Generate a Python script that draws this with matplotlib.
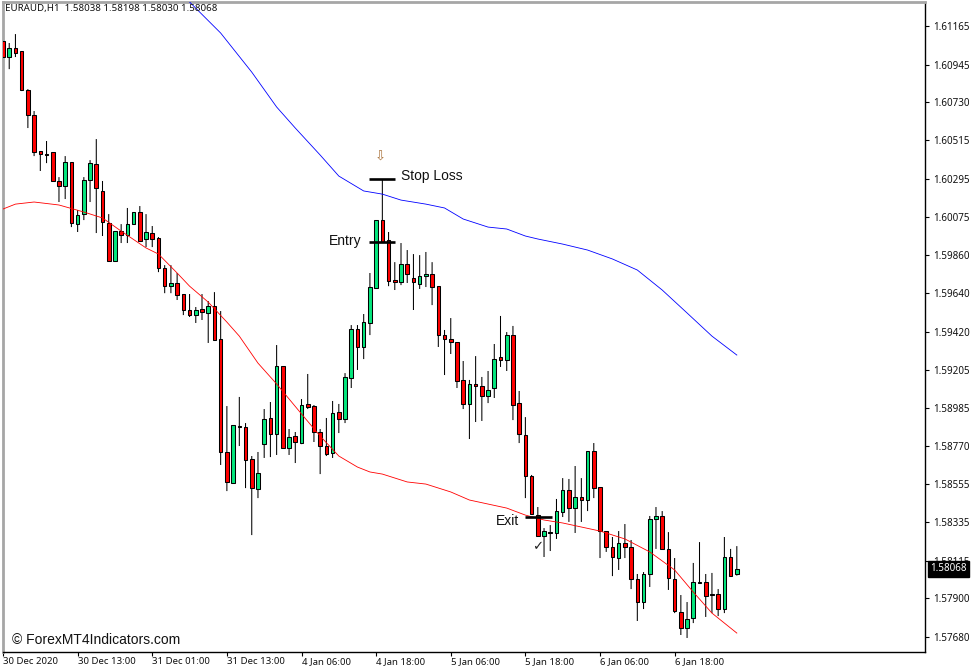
import matplotlib
matplotlib.use("Agg")
import matplotlib.pyplot as plt
import numpy as np

# EURAUD H1 candles
opens = [1.61079, 1.60988, 1.61039, 1.61022, 1.60800, 1.60657, 1.60452, 1.60435, 1.60446, 1.60281,
         1.60252, 1.60389, 1.60035, 1.60092, 1.60286, 1.60378, 1.60224, 1.60041, 1.59824, 1.59995,
         1.59973, 1.60035, 1.60104, 1.59950, 1.59984, 1.59955, 1.59784, 1.59681, 1.59698, 1.59636,
         1.59545, 1.59516, 1.59550, 1.59528, 1.59568, 1.59379, 1.58735, 1.58558, 1.58883, 1.58877,
         1.58695, 1.58524, 1.58780, 1.58929, 1.58837, 1.59225, 1.58758, 1.58826, 1.58786, 1.59009,
         1.58997, 1.58849, 1.58769, 1.58729, 1.58963, 1.58923, 1.59157, 1.59436, 1.59334, 1.59471,
         1.59670, 1.60058, 1.59944, 1.59716, 1.59704, 1.59807, 1.59727, 1.59693, 1.59739, 1.59750,
         1.59681, 1.59402, 1.59379, 1.59362, 1.59146, 1.59009, 1.59123, 1.59111, 1.59054, 1.59100,
         1.59277, 1.59260, 1.59402, 1.59014, 1.58832, 1.58598, 1.58375, 1.58256, 1.58273, 1.58273,
         1.58393, 1.58518, 1.58415, 1.58478, 1.58461, 1.58740, 1.58535, 1.58284, 1.58193, 1.58130,
         1.58216, 1.58193, 1.58010, 1.57879, 1.58039, 1.58353, 1.58370, 1.58182, 1.58010, 1.57822,
         1.57731, 1.57788, 1.57987, 1.57993, 1.57919, 1.57925, 1.57839, 1.58136, 1.58038]
highs = [1.61079, 1.61068, 1.61119, 1.61022, 1.60805, 1.60680, 1.60452, 1.60509, 1.60446, 1.60303,
         1.60423, 1.60389, 1.60115, 1.60303, 1.60400, 1.60520, 1.60281, 1.60092, 1.59995, 1.60035,
         1.60127, 1.60104, 1.60138, 1.60092, 1.60024, 1.59961, 1.59801, 1.59801, 1.59756, 1.59636,
         1.59636, 1.59562, 1.59636, 1.59596, 1.59647, 1.59539, 1.58997, 1.58889, 1.59049, 1.58900,
         1.58712, 1.58735, 1.58980, 1.59020, 1.59345, 1.59225, 1.58866, 1.58849, 1.59037, 1.59180,
         1.59003, 1.58866, 1.58929, 1.59026, 1.59009, 1.59185, 1.59459, 1.59459, 1.59522, 1.59756,
         1.60058, 1.60292, 1.59990, 1.59818, 1.59927, 1.59887, 1.59864, 1.59858, 1.59876, 1.59818,
         1.59681, 1.59431, 1.59499, 1.59362, 1.59254, 1.59146, 1.59282, 1.59163, 1.59197, 1.59351,
         1.59511, 1.59419, 1.59454, 1.59083, 1.58934, 1.58604, 1.58421, 1.58301, 1.58318, 1.58467,
         1.58586, 1.58581, 1.58655, 1.58586, 1.58740, 1.58786, 1.58535, 1.58284, 1.58250, 1.58284,
         1.58324, 1.58233, 1.58039, 1.58050, 1.58370, 1.58421, 1.58398, 1.58278, 1.58130, 1.57919,
         1.57879, 1.58102, 1.58221, 1.58039, 1.58045, 1.57953, 1.58250, 1.58182, 1.58198]
lows = [1.60942, 1.60919, 1.60988, 1.60794, 1.60583, 1.60423, 1.60338, 1.60383, 1.60281, 1.60161,
        1.60178, 1.60018, 1.59990, 1.60058, 1.60161, 1.59984, 1.59967, 1.59824, 1.59824, 1.59927,
        1.59927, 1.60030, 1.59938, 1.59904, 1.59904, 1.59761, 1.59641, 1.59641, 1.59602, 1.59516,
        1.59505, 1.59471, 1.59488, 1.59357, 1.59374, 1.58661, 1.58512, 1.58558, 1.58769, 1.58529,
        1.58261, 1.58472, 1.58701, 1.58706, 1.58718, 1.58758, 1.58718, 1.58672, 1.58780, 1.58980,
        1.58792, 1.58609, 1.58712, 1.58701, 1.58843, 1.58900, 1.59100, 1.59203, 1.59265, 1.59402,
        1.59670, 1.59933, 1.59681, 1.59659, 1.59687, 1.59699, 1.59545, 1.59665, 1.59676, 1.59573,
        1.59334, 1.59174, 1.59294, 1.59100, 1.58980, 1.58809, 1.58906, 1.58912, 1.59014, 1.59043,
        1.59220, 1.59197, 1.58917, 1.58786, 1.58472, 1.58381, 1.58256, 1.58136, 1.58170, 1.58239,
        1.58364, 1.58336, 1.58273, 1.58336, 1.58398, 1.58472, 1.58130, 1.58165, 1.58027, 1.58062,
        1.58130, 1.57953, 1.57771, 1.57839, 1.57965, 1.58182, 1.58176, 1.57948, 1.57816, 1.57691,
        1.57674, 1.57759, 1.57982, 1.57794, 1.57816, 1.57799, 1.57816, 1.58027, 1.58030]
closes = [1.60988, 1.61039, 1.61011, 1.60800, 1.60657, 1.60446, 1.60435, 1.60429, 1.60281, 1.60252,
          1.60389, 1.60041, 1.60087, 1.60286, 1.60383, 1.60241, 1.60047, 1.59824, 1.59995, 1.59973,
          1.60035, 1.60104, 1.59938, 1.59990, 1.59950, 1.59784, 1.59681, 1.59698, 1.59630, 1.59545,
          1.59516, 1.59545, 1.59533, 1.59568, 1.59374, 1.58735, 1.58564, 1.58889, 1.58877, 1.58689,
          1.58529, 1.58615, 1.58923, 1.58837, 1.59225, 1.58758, 1.58820, 1.58792, 1.59003, 1.58991,
          1.58849, 1.58769, 1.58723, 1.58957, 1.58923, 1.59163, 1.59436, 1.59334, 1.59476, 1.59676,
          1.60058, 1.59933, 1.59710, 1.59704, 1.59807, 1.59750, 1.59704, 1.59739, 1.59750, 1.59676,
          1.59402, 1.59379, 1.59362, 1.59140, 1.59009, 1.59123, 1.59111, 1.59054, 1.59089, 1.59265,
          1.59260, 1.59402, 1.59003, 1.58837, 1.58598, 1.58381, 1.58256, 1.58284, 1.58278, 1.58398,
          1.58518, 1.58415, 1.58478, 1.58461, 1.58740, 1.58529, 1.58284, 1.58193, 1.58136, 1.58216,
          1.58193, 1.58010, 1.57879, 1.58039, 1.58353, 1.58370, 1.58182, 1.58016, 1.57828, 1.57731,
          1.57782, 1.57993, 1.57993, 1.57913, 1.57925, 1.57839, 1.58136, 1.58027, 1.58068]

# moving averages, read at a few bars only
blue_bars = [30, 35, 40, 44, 47, 51, 54, 58, 61, 64, 68, 71, 74, 78, 81, 84, 86, 90, 94, 98, 102, 106, 110, 114, 118]
blue_vals = [1.61302, 1.61125, 1.60902, 1.60703, 1.60583, 1.60429, 1.60309, 1.60224, 1.60206, 1.60172,
             1.60149, 1.60127, 1.60064, 1.60018, 1.60007, 1.59967, 1.59950, 1.59921, 1.59887, 1.59836,
             1.59773, 1.59659, 1.59528, 1.59396, 1.59288]
red_bars = [0, 2, 5, 9, 13, 16, 19, 23, 25, 28, 30, 33, 36, 38, 41, 44, 48, 51, 54, 57, 59, 61, 65, 68,
            72, 75, 81, 84, 87, 90, 96, 100, 104, 108, 111, 114, 118]
red_vals = [1.60121, 1.60149, 1.60161, 1.60144, 1.60104, 1.60070, 1.59995, 1.59899, 1.59864, 1.59756,
            1.59681, 1.59590, 1.59476, 1.59396, 1.59242, 1.59123, 1.58952, 1.58826, 1.58712, 1.58649,
            1.58621, 1.58609, 1.58564, 1.58552, 1.58507, 1.58461, 1.58415, 1.58375, 1.58347, 1.58330,
            1.58284, 1.58239, 1.58165, 1.58062, 1.57936, 1.57816, 1.57702]

ytick_vals = ["1.61165", "1.60945", "1.60730", "1.60515", "1.60295", "1.60075", "1.59860", "1.59640", "1.59420",
              "1.59205", "1.58985", "1.58770", "1.58555", "1.58335", "1.58115", "1.57900", "1.57680"]
xtick_bars = [0, 12, 24, 36, 48, 60, 72, 84, 96, 108]
xtick_labels = ["30 Dec 2020", "30 Dec 13:00", "31 Dec 01:00", "31 Dec 13:00", "4 Jan 06:00",
                "4 Jan 18:00", "5 Jan 06:00", "5 Jan 18:00", "6 Jan 06:00", "6 Jan 18:00"]

header = "EURAUD,H1  1.58038 1.58198 1.58030 1.58068"
last_price = 1.58068
stop_price = 1.60292
entry_price = 1.59933
exit_price = 1.58364

W, H = 977, 672
fig = plt.figure(figsize=(W / 100, H / 100), dpi=100, facecolor="white")
ax = fig.add_axes([3 / W, 1 - 652 / H, 922 / W, 650 / H])

o = np.array(opens)
h = np.array(highs)
l = np.array(lows)
c = np.array(closes)
bars = np.arange(len(o))
up = c >= o

# wicks, not snapped so they come out soft like the screenshot
wicks = ax.vlines(bars, l, h, color="black", lw=0.75, zorder=2)
wicks.set_snap(False)
body_bottom = np.minimum(o, c)
body_height = np.abs(c - o)
ax.bar(bars, body_height, bottom=body_bottom, width=0.58, color=np.where(up, "#05E67D", "#FF0000"),
       edgecolor="black", linewidth=0.75, zorder=3)

ax.plot(blue_bars, blue_vals, color="#0000FF", lw=0.6, zorder=4)
ax.plot(red_bars, red_vals, color="#FF0000", lw=0.6, zorder=4)

# trade levels
ax.hlines([stop_price, entry_price], 58.9, 63.1, color="black", lw=1.9, zorder=5)
ax.hlines(exit_price, 84.0, 88.3, color="black", lw=1.9, zorder=5)

ax.set_xlim(0.03, 148.26)
ax.set_ylim(1.57594, 1.61302)

ax.set_yticks([float(v) for v in ytick_vals])
ax.set_yticklabels(ytick_vals, fontfamily="Noto Sans", fontsize=7.1, color="#111111")
ax.yaxis.tick_right()
ax.tick_params(axis="y", length=3, width=0.8, pad=3, color="black")
ax.set_xticks(xtick_bars)
ax.set_xticklabels(xtick_labels, fontfamily="Noto Sans", fontsize=6.9, color="#111111", ha="left")
ax.tick_params(axis="x", length=3, width=0.8, pad=0.5, color="black")
for lab in ax.get_xticklabels():
    lab.set_x(lab.get_position()[0])

for side in ["right", "bottom"]:
    ax.spines[side].set_color("black")
    ax.spines[side].set_linewidth(1.0)
for side in ["left", "top"]:
    ax.spines[side].set_color("#A6A6A6")
    ax.spines[side].set_linewidth(2.0)

# current price tag on the scale
ax.text(1.0055, last_price, "1.58068", transform=ax.get_yaxis_transform(), va="center", ha="left",
        color="white", fontfamily="Noto Sans", fontsize=7.1, clip_on=False, zorder=10,
        bbox=dict(facecolor="black", edgecolor="black", pad=1.6))


def put_text(x, y, s, **kw):
    # x, y are picture pixels, y from the top
    fig.text(x / W, 1 - y / H, s, va="center", **kw)


put_text(5, 9, header, fontfamily="Noto Sans", fontsize=7.0, color="#111111")
put_text(401, 176, "Stop Loss", fontfamily="Liberation Sans", fontsize=10, color="#111111")
put_text(329, 241, "Entry", fontfamily="Liberation Sans", fontsize=10, color="#111111")
put_text(496, 521, "Exit", fontfamily="Liberation Sans", fontsize=10, color="#111111")
put_text(375, 157, "\u21e9", fontfamily="DejaVu Sans", fontsize=9.5, color="#A9713A")
put_text(532, 547, "\u2713", fontfamily="DejaVu Sans", fontsize=9.5, color="#222222")
put_text(12, 640, "\u00a9 ForexMT4Indicators.com", fontfamily="Liberation Sans", fontsize=10, color="#111111")

fig.savefig("out.png", dpi=100, facecolor="white")
